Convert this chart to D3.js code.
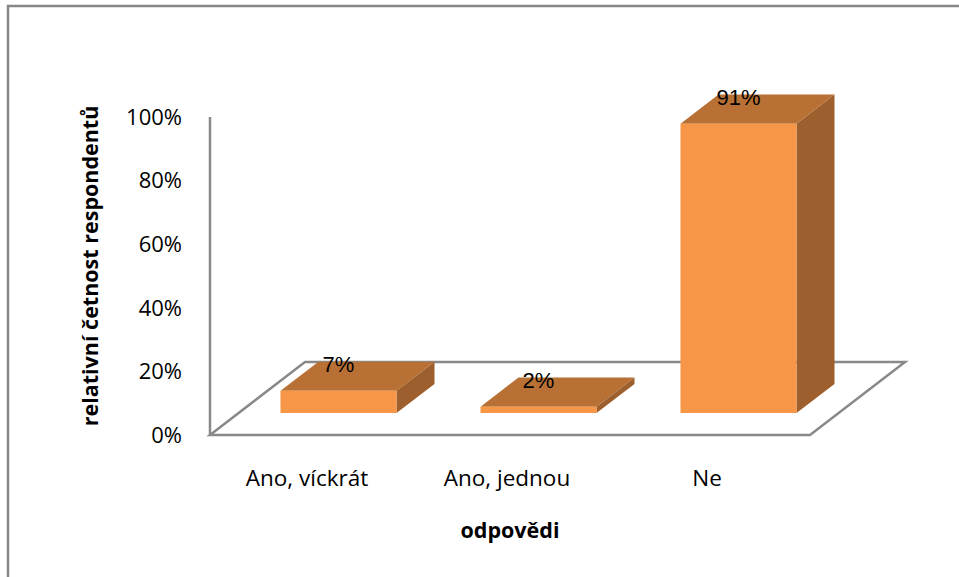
<!DOCTYPE html>
<html>
<head>
<meta charset="utf-8">
<script src="https://cdn.jsdelivr.net/npm/d3@7"></script>
<style>
body { margin:0; background:#fff; }
svg { display:block; }
</style>
</head>
<body>
<svg width="959" height="577"></svg>
<script>
const categories = ["Ano, víckrát", "Ano, jednou", "Ne"]
const values = [0.07, 0.02, 0.91]
const valueLabels = ["7%", "2%", "91%"]
const yTicks = [0, 0.2, 0.4, 0.6, 0.8, 1.0]

const svg = d3.select("svg")

// front plane of the floor
const x = d3.scaleBand().domain(categories).range([210, 810])
const y = d3.scaleLinear().domain([0, 1]).range([435, 117])

// depth vector of the floor and where the bars sit in it
const depth = {dx: 95, dy: -73}
const f0 = 0.3, f1 = 0.7
const barW = x.step() * 0.58

const proj = (px, py, f) => [px + f*depth.dx, py + f*depth.dy]
const poly = pts => pts.map(p => p.join(",")).join(" ")

const grey = "#898989"

// outer frame (only top and left are in view)
svg.append("path")
    .attr("d", "M8,577 L8,6 L959,6")
    .attr("fill", "none")
    .attr("stroke", "#878787")
    .attr("stroke-width", 2.5)

// floor
const fl = [proj(210, 435, 0), proj(810, 435, 0), proj(810, 435, 1), proj(210, 435, 1)]
svg.append("polygon")
    .attr("points", poly(fl))
    .attr("fill", "#fff")
    .attr("stroke", grey)
    .attr("stroke-width", 2.5)

// vertical axis line
svg.append("line")
    .attr("x1", 210).attr("x2", 210)
    .attr("y1", y(1)).attr("y2", y(0))
    .attr("stroke", grey)
    .attr("stroke-width", 2.5)

// bars
const data = categories.map((c, i) => ({cat: c, v: values[i], label: valueLabels[i]}))

const bars = svg.selectAll(".bar").data(data).enter().append("g").attr("class", "bar")

bars.each(function(d){
    const g = d3.select(this)
    const cx = x(d.cat) + x.bandwidth()/2
    const l = cx - barW/2, r = cx + barW/2
    const t = y(d.v), b = y(0)
    const A = proj(l, t, f0), B = proj(r, t, f0), C = proj(r, b, f0), D = proj(l, b, f0)
    const A2 = proj(l, t, f1), B2 = proj(r, t, f1), C2 = proj(r, b, f1)
    g.append("polygon").attr("points", poly([B, B2, C2, C])).attr("fill", "#9c5f2d")
    g.append("polygon").attr("points", poly([A, A2, B2, B])).attr("fill", "#b87035")
    g.append("polygon").attr("points", poly([A, B, C, D])).attr("fill", "#f79646")
    g.append("text")
        .attr("x", (A[0] + B[0]) / 2)
        .attr("y", A2[1] + 10.5)
        .attr("text-anchor", "middle")
        .attr("font-family", "'Liberation Sans', Arial, sans-serif")
        .attr("font-size", 22)
        .attr("fill", "#000")
        .text(d.label)
})

// y tick labels
svg.selectAll(".ytick").data(yTicks).enter().append("text")
    .attr("class", "ytick")
    .attr("x", 182)
    .attr("y", d => y(d))
    .attr("dy", "0.35em")
    .attr("text-anchor", "end")
    .attr("font-family", "'Open Sans', sans-serif")
    .attr("font-size", 22)
    .attr("fill", "#000")
    .text(d => d3.format(".0%")(d))

// category labels
svg.selectAll(".xtick").data(categories).enter().append("text")
    .attr("class", "xtick")
    .attr("x", d => x(d) + x.bandwidth()/2 - 3)
    .attr("y", 486)
    .attr("text-anchor", "middle")
    .attr("font-family", "'Open Sans', sans-serif")
    .attr("font-size", 22.5)
    .attr("fill", "#000")
    .text(d => d)

// axis titles
svg.append("text")
    .attr("x", 510).attr("y", 538)
    .attr("text-anchor", "middle")
    .attr("font-family", "'Open Sans', sans-serif")
    .attr("font-weight", "bold")
    .attr("font-size", 21.5)
    .text("odpovědi")

svg.append("text")
    .attr("transform", "translate(90,266) rotate(-90)")
    .attr("dy", "0.35em")
    .attr("text-anchor", "middle")
    .attr("font-family", "'Open Sans', sans-serif")
    .attr("font-weight", "bold")
    .attr("font-size", 21.5)
    .text("relativní četnost respondentů")
</script>
</body>
</html>
